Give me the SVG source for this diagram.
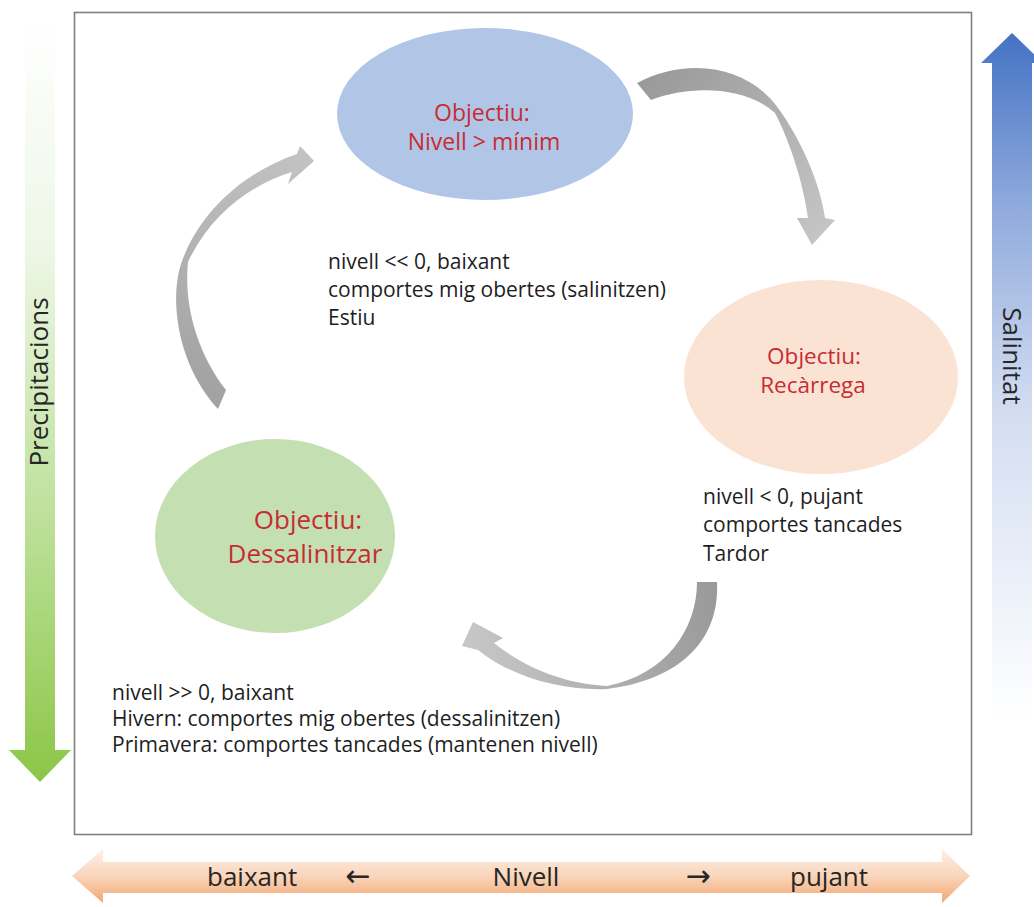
<svg xmlns="http://www.w3.org/2000/svg" width="1034" height="907" viewBox="0 0 1034 907">
<defs>
<linearGradient id="gGreen" x1="0" y1="20" x2="0" y2="782" gradientUnits="userSpaceOnUse">
<stop offset="0" stop-color="#ffffff"/>
<stop offset="0.3" stop-color="#eef7e6"/>
<stop offset="0.7" stop-color="#b6dd90"/>
<stop offset="1" stop-color="#8cc645"/>
</linearGradient>
<linearGradient id="gBlue" x1="0" y1="33" x2="0" y2="720" gradientUnits="userSpaceOnUse">
<stop offset="0" stop-color="#4472c4"/>
<stop offset="0.25" stop-color="#8faadc"/>
<stop offset="0.55" stop-color="#d3ddf1"/>
<stop offset="1" stop-color="#ffffff"/>
</linearGradient>
<linearGradient id="gOrange" x1="0" y1="849" x2="0" y2="903" gradientUnits="userSpaceOnUse">
<stop offset="0" stop-color="#fdf1e8"/>
<stop offset="0.5" stop-color="#f9d5bb"/>
<stop offset="1" stop-color="#f2a871"/>
</linearGradient>
<linearGradient id="gA1" x1="640" y1="90" x2="812" y2="240" gradientUnits="userSpaceOnUse">
<stop offset="0" stop-color="#9a9a9a"/>
<stop offset="1" stop-color="#c4c4c4"/>
</linearGradient>
<linearGradient id="gA2" x1="710" y1="585" x2="470" y2="630" gradientUnits="userSpaceOnUse">
<stop offset="0" stop-color="#9a9a9a"/>
<stop offset="1" stop-color="#c6c6c6"/>
</linearGradient>
<linearGradient id="gA3" x1="220" y1="400" x2="310" y2="160" gradientUnits="userSpaceOnUse">
<stop offset="0" stop-color="#a2a2a2"/>
<stop offset="1" stop-color="#c2c2c2"/>
</linearGradient>
<style>
.lbl{font-family:"Open Sans","Liberation Sans",sans-serif;fill:#1e1e1e;font-size:21px}
.goal{font-family:"Open Sans","Liberation Sans",sans-serif;fill:#c62d32;text-anchor:middle}
.axis{font-family:"Open Sans","Liberation Sans",sans-serif;fill:#262626;font-size:26px}
.sym{font-family:"DejaVu Sans",sans-serif;fill:#262626;font-size:30px}
.arw{stroke:none}
</style>
</defs>
<rect width="1034" height="907" fill="#ffffff"/>

<g id="axis-precipitacions">
<path d="M25,20 L55,20 L55,750 L71,750 L40,782 L9,750 L25,750 Z" fill="url(#gGreen)"/>
<text class="axis" font-size="27" transform="translate(48,382) rotate(-90)" text-anchor="middle">Precipitacions</text>
</g>

<g id="axis-salinitat">
<path d="M1012,33 L1043,63 L1032,63 L1032,720 L992,720 L992,63 L981,63 Z" fill="url(#gBlue)"/>
<text class="axis" font-size="27" transform="translate(1003,356) rotate(90)" text-anchor="middle">Salinitat</text>
</g>

<g id="axis-nivell">
<path d="M72,876 L103,849 L103,862 L942,862 L942,849 L970,876 L942,903 L942,893 L103,893 L103,903 Z" fill="url(#gOrange)"/>
<text class="axis" x="207" y="886">baixant</text>
<text class="sym" x="358" y="886" text-anchor="middle">←</text>
<text class="axis" x="526" y="886" text-anchor="middle">Nivell</text>
<text class="sym" x="698" y="886" text-anchor="middle">→</text>
<text class="axis" x="790" y="886">pujant</text>
</g>

<rect id="frame" x="74.5" y="12.5" width="897" height="822" fill="none" stroke="#7f7f7f" stroke-width="1.6"/>

<g id="connectors">
<path class="arw" fill="url(#gA1)" d="M637,83 C690,55 750,68 778,108 C800,138 820,182 825,218 L835,220 L812,245 L797,218 L808,218 C803,182 790,142 775,113 C745,86 690,85 651,100 Z"/>
<path class="arw" fill="url(#gA2)" d="M717,582 C720,640 680,680 607,689 C560,691 510,676 478,650 L462,646 L473,622 L503,638 L494,643 C525,668 565,684 607,686 C665,675 697,630 697,582 Z"/>
<path class="arw" fill="url(#gA3)" d="M218,409 C175,362 168,292 184,256 C205,205 250,170 297,154 L300,146 L314,161 L288,184 L292,172 C250,185 210,215 188,262 C184,302 195,350 226,390 Z"/>
</g>

<g id="node-nivell-minim">
<ellipse cx="485" cy="114" rx="148" ry="86" fill="#b1c6e7"/>
<text class="goal" font-size="23" x="482" y="121">Objectiu:</text>
<text class="goal" font-size="23" x="484" y="150">Nivell &gt; mínim</text>
</g>

<g id="node-recarrega">
<ellipse cx="821" cy="377" rx="137" ry="97" fill="#fbe3d4"/>
<text class="goal" font-size="22.5" x="814" y="364">Objectiu:</text>
<text class="goal" font-size="22.5" x="813" y="393">Recàrrega</text>
</g>

<g id="node-dessalinitzar">
<ellipse cx="275" cy="536" rx="120" ry="97" fill="#c4e0b3"/>
<text class="goal" font-size="26" x="308" y="529">Objectiu:</text>
<text class="goal" font-size="26" x="305" y="563">Dessalinitzar</text>
</g>

<g id="label-estiu">
<text class="lbl" x="328" y="269">nivell &lt;&lt; 0, baixant</text>
<text class="lbl" x="328" y="297">comportes mig obertes (salinitzen)</text>
<text class="lbl" x="328" y="325">Estiu</text>
</g>

<g id="label-tardor">
<text class="lbl" x="703" y="504">nivell &lt; 0, pujant</text>
<text class="lbl" x="703" y="532">comportes tancades</text>
<text class="lbl" x="703" y="561">Tardor</text>
</g>

<g id="label-hivern-primavera">
<text class="lbl" x="112" y="700">nivell &gt;&gt; 0, baixant</text>
<text class="lbl" x="112" y="726">Hivern: comportes mig obertes (dessalinitzen)</text>
<text class="lbl" x="112" y="752">Primavera: comportes tancades (mantenen nivell)</text>
</g>
</svg>
